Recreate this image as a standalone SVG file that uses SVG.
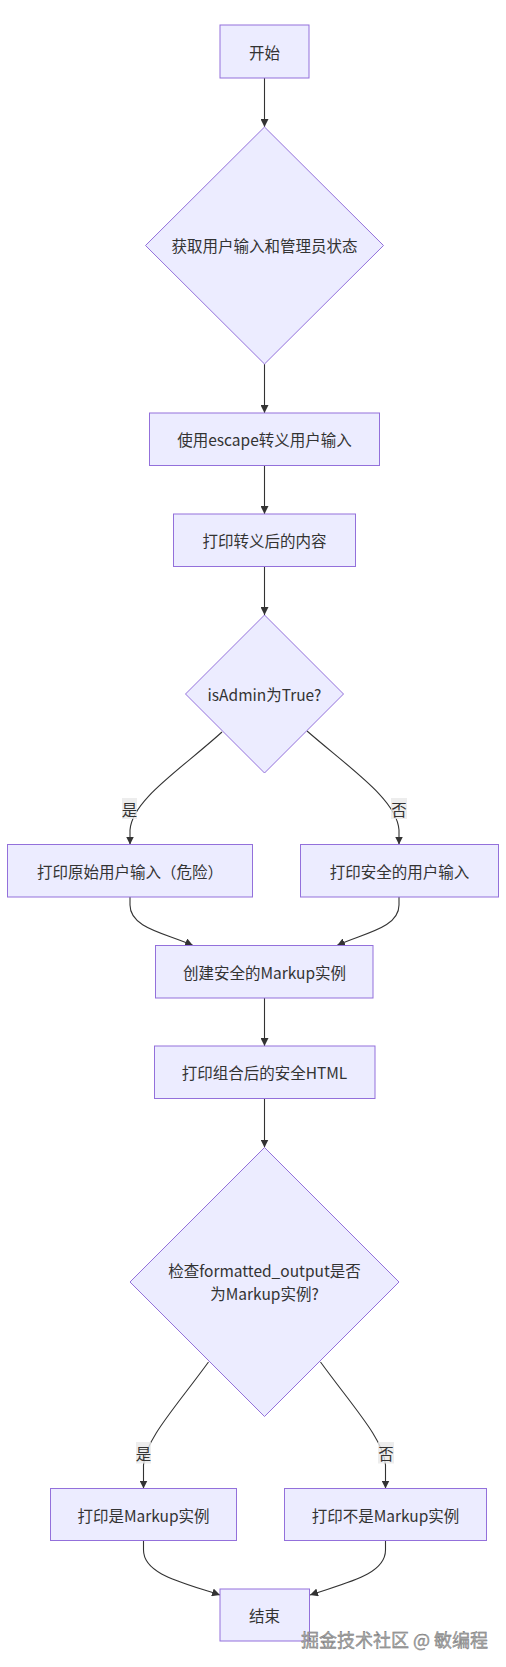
<svg xmlns="http://www.w3.org/2000/svg" width="506" height="1667" viewBox="0 0 506 1667">
<defs>
<style>
.node rect,.node polygon{fill:#ECECFF;stroke:#9370DB;stroke-width:1}
.node text{font-family:"Noto Sans CJK SC","Noto Sans",sans-serif;font-size:15.5px;fill:#333;text-anchor:middle;dominant-baseline:central}
.edge{fill:none;stroke:#333;stroke-width:1.1;marker-end:url(#arrow)}
.lbl rect{fill:#e8e8e8;opacity:0.8}
.lbl text{font-family:"Noto Sans CJK SC",sans-serif;font-size:15.5px;fill:#333;text-anchor:middle;dominant-baseline:central}
.wm{font-family:"Noto Sans CJK SC",sans-serif;font-size:18px;fill:#a8a8a8;stroke:#6a6a6a;stroke-width:0.35;text-anchor:end}
</style>
<marker id="arrow" viewBox="0 0 10 10" refX="10" refY="5" markerWidth="8" markerHeight="8" markerUnits="userSpaceOnUse" orient="auto">
<path d="M0,0 L10,5 L0,10 z" fill="#333"/>
</marker>
</defs>
<rect width="506" height="1667" fill="#fff"/>
<g id="edges">
<path class="edge" d="M264.5,78 L264.5,127"/>
<path class="edge" d="M264.5,364 L264.5,413"/>
<path class="edge" d="M264.5,465.5 L264.5,514"/>
<path class="edge" d="M264.5,566.5 L264.5,615"/>
<path class="edge" d="M222,732 C180,770 132,800 130,830 L130,844.5"/>
<path class="edge" d="M307,731 C352,770 397,800 399,830 L399,844.5"/>
<path class="edge" d="M130,897 L130,905 C130,928 165,933 193,945.5"/>
<path class="edge" d="M399,897 L399,905 C399,928 364,933 337,945.5"/>
<path class="edge" d="M264.5,998 L264.5,1046"/>
<path class="edge" d="M264.5,1098.5 L264.5,1147.5"/>
<path class="edge" d="M208.5,1362 C175,1408 145,1440 143.5,1465 L143.5,1488.5"/>
<path class="edge" d="M320.5,1362 C354,1408 384,1440 385.5,1465 L385.5,1488.5"/>
<path class="edge" d="M143.5,1540.5 L143.5,1550 C143.5,1575 185,1583 220,1595"/>
<path class="edge" d="M385.5,1540.5 L385.5,1550 C385.5,1575 345,1583 310,1595"/>
</g>
<g id="edge-labels">
<g class="lbl"><rect x="122" y="798" width="15" height="21"/><text x="129.5" y="808.5">是</text></g>
<g class="lbl"><rect x="391" y="798" width="16" height="21"/><text x="399" y="808.5">否</text></g>
<g class="lbl"><rect x="136" y="1442" width="15" height="21.5"/><text x="143.5" y="1452.5">是</text></g>
<g class="lbl"><rect x="378" y="1442" width="16" height="21.5"/><text x="386" y="1452.5">否</text></g>
</g>
<g id="start" class="node"><rect x="220" y="25" width="89" height="53"/><text x="264.5" y="51.5">开始</text></g>
<g id="getInput" class="node"><polygon points="264.5,127 383.5,245.5 264.5,364 145.5,245.5"/><text x="264.5" y="245">获取用户输入和管理员状态</text></g>
<g id="escape" class="node"><rect x="149.5" y="413" width="230" height="52.5"/><text x="264.5" y="439">使用escape转义用户输入</text></g>
<g id="printEscaped" class="node"><rect x="173.5" y="514" width="182" height="52.5"/><text x="264.5" y="540">打印转义后的内容</text></g>
<g id="isAdmin" class="node"><polygon points="264.5,615 343.5,694 264.5,773 185.5,694"/><text x="264.5" y="693.5">isAdmin为True?</text></g>
<g id="printRaw" class="node"><rect x="7.5" y="844.5" width="245" height="52.5"/><text x="130" y="871">打印原始用户输入（危险）</text></g>
<g id="printSafe" class="node"><rect x="300.5" y="844.5" width="198" height="52.5"/><text x="399.5" y="871">打印安全的用户输入</text></g>
<g id="createMarkup" class="node"><rect x="155.5" y="945.5" width="217.5" height="52.5"/><text x="264.5" y="971.5">创建安全的Markup实例</text></g>
<g id="printHtml" class="node"><rect x="154.5" y="1046" width="220.5" height="52.5"/><text x="264.5" y="1072">打印组合后的安全HTML</text></g>
<g id="checkMarkup" class="node"><polygon points="264.5,1147.5 399,1282 264.5,1416.5 130,1282"/><text x="264.5" y="1270">检查formatted_output是否</text><text x="264.5" y="1293">为Markup实例?</text></g>
<g id="printYes" class="node"><rect x="50.5" y="1488.5" width="186" height="52"/><text x="143.5" y="1514.5">打印是Markup实例</text></g>
<g id="printNo" class="node"><rect x="284.5" y="1488.5" width="202" height="52"/><text x="385.5" y="1514.5">打印不是Markup实例</text></g>
<g id="end" class="node"><rect x="220" y="1589" width="89.5" height="52"/><text x="264.5" y="1615">结束</text></g>
<text class="wm" x="488" y="1646.5">掘金技术社区 @ 敏编程</text>
</svg>
